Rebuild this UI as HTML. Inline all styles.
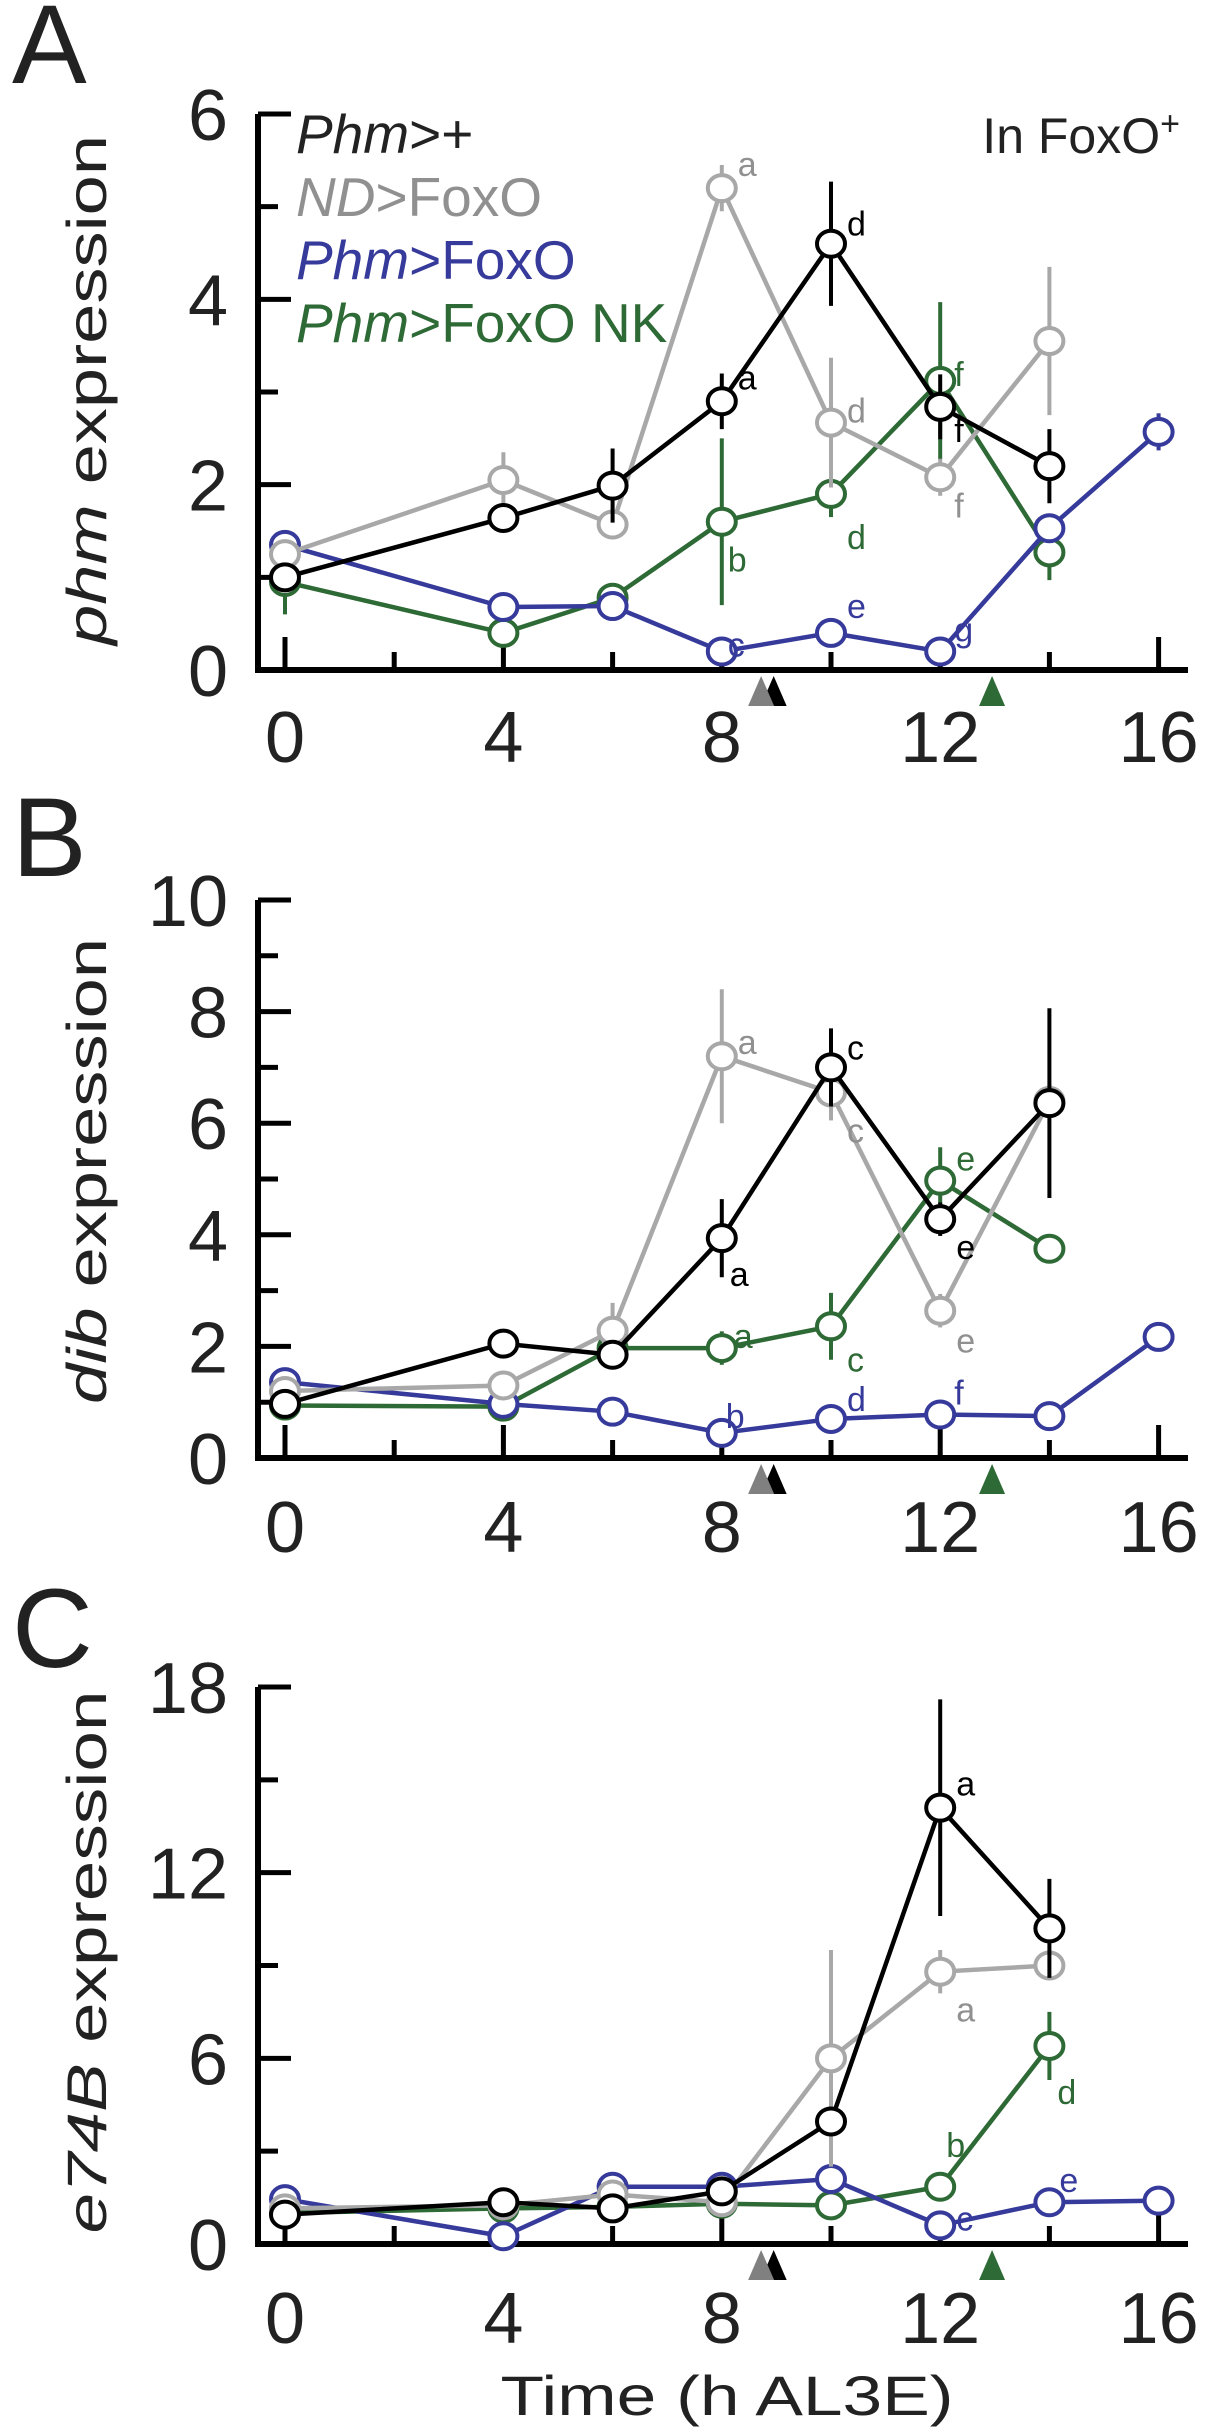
<!DOCTYPE html>
<html><head><meta charset="utf-8"><style>
html,body{margin:0;padding:0;background:#fff;}
svg{display:block;font-family:"Liberation Sans",sans-serif;}
</style></head><body>
<svg id="fig" width="1206" height="2432" viewBox="0 0 1206 2432" xmlns="http://www.w3.org/2000/svg"></svg>
<script>
// ---- data ----
const times = [0,4,6,8,10,12,14,16];
const seriesNames = ["Phm>+","ND>FoxO","Phm>FoxO","Phm>FoxO NK"];
const colors = ["#000000","#a8a8a8","#363a9a","#2e6a35"];
// panel A (phm)
const phmBlack = [1.0,1.64,1.99,2.9,4.6,2.84,2.2,null];
const phmBlackErr = [0.1,0.15,0.4,0.3,0.67,0.35,0.4,null];
const phmGray = [1.25,2.05,1.57,5.2,2.67,2.08,3.55,null];
const phmGrayErr = [0.1,0.3,0.15,0.25,0.7,0.2,0.8,null];
const phmBlue = [1.35,0.68,0.69,0.2,0.4,0.2,1.53,2.57];
const phmBlueErr = [0.1,0.1,0.1,0.05,0.1,0.05,0.15,0.2];
const phmGreen = [0.95,0.4,0.78,1.6,1.9,3.12,1.27,null];
const phmGreenErr = [0.35,0.1,0.15,0.9,0.25,0.85,0.3,null];
// panel B (dib)
const dibBlack = [0.97,2.05,1.85,3.94,7.0,4.28,6.36,null];
const dibBlackErr = [0.1,0.2,0.15,0.7,0.7,0.3,1.7,null];
const dibGray = [1.2,1.3,2.28,7.2,6.55,2.64,6.4,null];
const dibGrayErr = [0.1,0.1,0.5,1.2,0.5,0.3,0.3,null];
const dibBlue = [1.36,0.97,0.83,0.45,0.7,0.78,0.75,2.17];
const dibBlueErr = [0.1,0.1,0.1,0.1,0.1,0.1,0.1,0.2];
const dibGreen = [0.94,0.92,1.97,1.97,2.36,4.97,3.75,null];
const dibGreenErr = [0.1,0.1,0.15,0.3,0.6,0.6,0.2,null];
// panel C (e74B)
const e74Black = [0.95,1.35,1.15,1.7,3.96,14.1,10.2,null];
const e74BlackErr = [0.1,0.2,0.2,0.2,0.4,3.5,1.6,null];
const e74Gray = [1.15,1.25,1.6,1.35,6.0,8.8,9.0,null];
const e74GrayErr = [0.1,0.2,0.2,0.2,3.5,0.7,0.4,null];
const e74Blue = [1.45,0.25,1.85,1.85,2.1,0.6,1.35,1.4];
const e74BlueErr = [0.1,0.1,0.1,0.1,0.1,0.1,0.1,0.1];
const e74Green = [1.0,1.15,1.2,1.3,1.25,1.85,6.4,null];
const e74GreenErr = [0.1,0.1,0.1,0.1,0.1,0.2,1.1,null];
const xTicks = [0,4,8,12,16];
const yTicksA = [0,2,4,6], yTicksB = [0,2,4,6,8,10], yTicksC = [0,6,12,18];
const arrowTimes = [8.72,8.95,12.95];

const NS="http://www.w3.org/2000/svg";
const svg=document.getElementById('fig');
function mk(tag,attrs,parent){const e=document.createElementNS(NS,tag);for(const k in attrs)e.setAttribute(k,attrs[k]);(parent||svg).appendChild(e);return e;}
const X=t=>285+t*54.6;
function si2col(i){return ['#000','#909090','#363a9a','#2e6a35'][i];}

const panels=[
 {key:'a',letter:'A',ly:83,y0:670,ymax:6,yTop:114,ticks:yTicksA,minor:1,labY:762,title:['phm',' expression'],tcy:390,tlen:510,
  data:[[phmBlack,phmBlackErr],[phmGray,phmGrayErr],[phmBlue,phmBlueErr],[phmGreen,phmGreenErr]],
  letters:[['a',1,8,5.2,22,-22],['a',0,8,2.9,22,-22],['d',0,10,4.6,22,-18],['d',1,10,2.67,22,-10],['f',3,12,3.12,20,-5],['f',0,12,2.84,20,25],['f',1,12,2.08,20,30],['b',3,8,1.6,12,40],['d',3,10,1.9,22,45],['c',2,8,0.2,12,-5],['e',2,10,0.4,22,-25],['g',2,12,0.2,20,-20]]},
 {key:'b',letter:'B',ly:876,y0:1458,ymax:10,yTop:900,ticks:yTicksB,minor:1,labY:1552,title:['dib',' expression'],tcy:1171,tlen:466,
  data:[[dibBlack,dibBlackErr],[dibGray,dibGrayErr],[dibBlue,dibBlueErr],[dibGreen,dibGreenErr]],
  letters:[['a',1,8,7.2,22,-12],['c',0,10,7.0,22,-18],['c',1,10,6.55,22,40],['e',3,12,4.97,22,-20],['e',0,12,4.28,22,30],['e',1,12,2.64,22,32],['a',0,8,3.94,14,38],['a',3,8,1.97,18,-10],['c',3,10,2.36,22,35],['b',2,8,0.45,10,-15],['d',2,10,0.7,22,-18],['f',2,12,0.78,20,-20]]},
 {key:'c',letter:'C',ly:1667,y0:2244,ymax:18,yTop:1687,ticks:yTicksC,minor:3,labY:2343,title:['e74B',' expression'],tcy:1962,tlen:543,
  data:[[e74Black,e74BlackErr],[e74Gray,e74GrayErr],[e74Blue,e74BlueErr],[e74Green,e74GreenErr]],
  letters:[['a',0,12,14.1,22,-22],['a',1,12,8.8,22,40],['b',3,12,1.85,12,-40],['d',3,14,6.4,14,48],['c',2,12,0.6,22,-5],['e',2,14,1.35,16,-20]]}
];
const order=[3,2,1,0];

panels.forEach(p=>{
  const Y=v=>p.y0-(v/p.ymax)*(p.y0-p.yTop);
  const S=(p.y0-p.yTop)/p.ymax;
  const g=mk('g',{});
  
  
  const L=mk('text',{x:12,y:p.ly,'font-size':112,fill:'#222'},g);L.textContent=p.letter;
  
  
  const ax=mk('path',{d:`M258,${p.yTop}V${p.y0}H1188`,stroke:'#000','stroke-width':6,fill:'none'},g);
  
  
  for(let v=0;v<=p.ymax;v+=p.minor){
    const major=p.ticks.includes(v);
    mk('line',{x1:258,x2:major?291:278,y1:Y(v),y2:Y(v),stroke:'#000','stroke-width':5},g);
  }
  p.ticks.forEach(v=>{const t=mk('text',{x:228,y:Y(v)+26,'font-size':72,'text-anchor':'end',fill:'#222'},g);t.textContent=v;
    
    });
  for(let h=0;h<=16;h+=2){
    const major=h%4===0;
    mk('line',{x1:X(h),x2:X(h),y1:p.y0,y2:p.y0-(major?33:18),stroke:'#000','stroke-width':5},g);
  }
  xTicks.forEach(h=>{const t=mk('text',{x:X(h),y:p.labY,'font-size':72,'text-anchor':'middle',fill:'#222'},g);t.textContent=h;
    
    });
  const arrColors=['#808080','#000','#2e6a35'];
  [1,0,2].forEach(i=>{const x=X(arrowTimes[i]);const a=mk('path',{d:`M${x-13},${p.y0+36}L${x},${p.y0+6}L${x+13},${p.y0+36}Z`,fill:arrColors[i]},g);
    
    });
  const tt=mk('text',{transform:`translate(106,${p.tcy}) rotate(-90)`,'font-size':56,'text-anchor':'middle',textLength:p.tlen,lengthAdjust:'spacingAndGlyphs',fill:'#222'},g);
  
  
  const ts1=mk('tspan',{'font-style':'italic'},tt);ts1.textContent=p.title[0];
  const ts2=mk('tspan',{},tt);ts2.textContent=p.title[1];
  order.forEach(si=>{
    const vals=p.data[si][0], errs=p.data[si][1], col=colors[si];
    const sg=mk('g',{},g);
    
    
    const pts=[];
    vals.forEach((v,i)=>{if(v!==null)pts.push([X(times[i]),Y(v),errs[i]]);});
    pts.forEach(q=>{const e=mk('line',{x1:q[0],x2:q[0],y1:q[1]-q[2]*S,y2:q[1]+q[2]*S,stroke:col,'stroke-width':4},sg);
      
      });
    const ln=mk('polyline',{points:pts.map(q=>q[0]+','+q[1]).join(' '),fill:'none',stroke:col,'stroke-width':4.5},sg);
    
    
    pts.forEach(q=>{const c=mk('ellipse',{cx:q[0],cy:q[1],rx:14,ry:13,fill:'#fff',stroke:col,'stroke-width':4},sg);
      
      });
  });
  p.letters.forEach(l=>{const t=mk('text',{x:X(l[2])+l[4]-6,y:Y(l[3])+l[5]+10,'font-size':34,fill:si2col(l[1])},g);t.textContent=l[0];
    
    });
});

const leg=mk('g',{'font-size':55});


const legItems=[['Phm','>+',0],['ND','>FoxO',1],['Phm','>FoxO',2],['Phm','>FoxO NK',3]];
const legCols=['#222','#909090','#363a9a','#2e6a35'];
legItems.forEach((it,i)=>{const t=mk('text',{x:296,y:153+i*63,fill:legCols[it[2]]},leg);
  
  
  const a=mk('tspan',{'font-style':'italic'},t);a.textContent=it[0];const b=mk('tspan',{},t);b.textContent=it[1];});
const inf=mk('text',{x:1180,y:153,'font-size':50,'text-anchor':'end',fill:'#222'});


inf.textContent='In FoxO';
const sup=mk('tspan',{dy:-18,'font-size':34},inf);sup.textContent='+';
const xt=mk('text',{x:727,y:2415,'font-size':56,'text-anchor':'middle',textLength:453,lengthAdjust:'spacingAndGlyphs',fill:'#222'});


xt.textContent='Time (h AL3E)';
</script>
</body></html>
